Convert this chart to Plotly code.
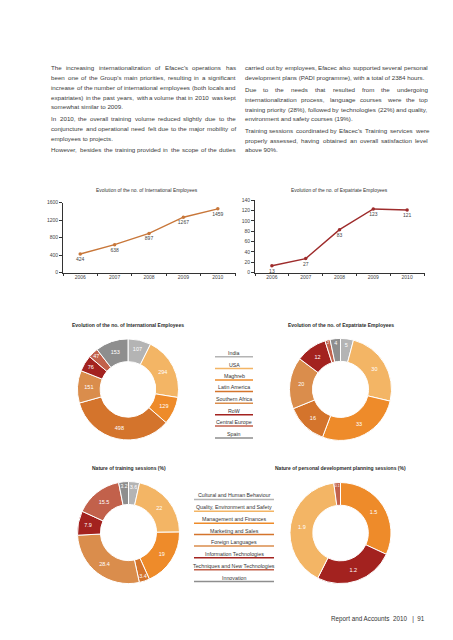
import plotly.graph_objects as go

W, H = 453, 640

# ---------------- data ----------------
years = ["2006", "2007", "2008", "2009", "2010"]
intl_employees = [424, 638, 897, 1267, 1459]
expat_employees = [13, 27, 83, 123, 121]
intl_yticks = [0, 400, 800, 1200, 1600]
expat_yticks = [0, 20, 40, 60, 80, 100, 120, 140]

regions = ["India", "USA", "Maghreb", "Latin America", "Southern Africa",
           "RoW", "Central Europe", "Spain"]
intl_by_region = [107, 294, 129, 498, 151, 76, 47, 153]
expat_by_region = [5, 30, 33, 16, 20, 12, 2, 4]

training_areas = ["Cultural and Human Behaviour", "Quality, Environment and Safety",
                  "Management and Finances", "Marketing and Sales", "Foreign Languages",
                  "Information Technologies", "Techniques and New Technologies", "Innovation"]
training_pct = [3.6, 22, 19, 3.4, 28.4, 7.9, 15.5, 3.2]
pdp_areas = ["Management and Finances", "Information Technologies",
             "Quality, Environment and Safety", "Techniques and New Technologies"]
pdp_pct = [1.5, 1.2, 1.9, 0.1]

left_lines = [
    "The increasing internationalization of Efacec's operations has",
    "been one of the Group's main priorities, resulting in a significant",
    "increase of the number of international employees (both locals and",
    "expatriates) in the past years, with a volume that in 2010 was kept",
    "somewhat similar to 2009.",
    "In 2010, the overall training volume reduced slightly due to the",
    "conjuncture and operational need felt due to the major mobility of",
    "employees to projects.",
    "However, besides the training provided in the scope of the duties",
]
left_last = {4, 7}
right_lines = [
    "carried out by employees, Efacec also supported several personal",
    "development plans (PADI programme), with a total of 2384 hours.",
    "Due to the needs that resulted from the undergoing",
    "internationalization process, language courses were the top",
    "training priority (28%), followed by technologies (22%) and quality,",
    "environment and safety courses (19%).",
    "Training sessions coordinated by Efacec's Training services were",
    "properly assessed, having obtained an overall satisfaction level",
    "above 90%.",
]
right_last = {1, 5, 8}
footer_text = "Report and Accounts\u00a0\u00a02010\u00a0\u00a0\u00a0|\u00a0\u00a091"

# ---------------- style ----------------
PALETTE = ["#B4B4B4", "#F3B565", "#EE8B2A", "#D4742C", "#DA8D4C",
           "#A3221F", "#C2614B", "#8E8E8E"]
FONT = "Liberation Sans"
TXT = "#3a3a3a"


def px(x):
    return x / W


def py(y):
    return 1 - y / H


AW = {" ": 278, ",": 278, ".": 278, "(": 333, ")": 333, "%": 889, "'": 191,
      "-": 333, "|": 260, ":": 278}
AW.update({c: 556 for c in "0123456789"})
AW.update(dict(zip("abcdefghijklmnopqrstuvwxyz",
                   [556, 556, 500, 556, 556, 278, 556, 556, 222, 222, 500, 222, 833,
                    556, 556, 556, 556, 333, 500, 278, 556, 500, 722, 500, 500, 500])))
AW.update(dict(zip("ABCDEFGHIJKLMNOPQRSTUVWXYZ",
                   [667, 667, 722, 722, 667, 611, 778, 722, 278, 500, 667, 556, 833,
                    722, 778, 667, 778, 722, 667, 611, 722, 667, 944, 667, 667, 611])))


def tw(s, size):
    return sum(AW.get(c, 556) for c in s) * size / 1000.0


annotations = []
shapes = []


def ann(x, y, text, size, color=TXT, xanchor="left", bold=False):
    annotations.append(dict(
        x=px(x), y=py(y), xref="paper", yref="paper", text=text, showarrow=False,
        xanchor=xanchor, yanchor="middle", borderpad=0, borderwidth=0,
        font=dict(family=FONT, size=size, color=color,
                  weight="bold" if bold else "normal")))


BODY = 6.2


def place_lines(lines, ys, last, x0, x1):
    for i, (line, yc) in enumerate(zip(lines, ys)):
        if i in last:
            ann(x0, yc, line, BODY)
            continue
        words = line.split(" ")
        widths = [tw(w, BODY) for w in words]
        gap = (x1 - x0 - sum(widths)) / (len(words) - 1)
        x = x0
        for w, wd in zip(words, widths):
            ann(x, yc, w, BODY)
            x += wd + gap


place_lines(left_lines, [57.3, 67, 77, 87, 96.7, 108.7, 118.3, 128.3, 140.3],
            left_last, 43.3, 227.7)
place_lines(right_lines, [57.3, 67, 79, 89, 99, 109, 121, 131, 140.3],
            right_last, 236.7, 420)

# ---------------- figure ----------------
fig = go.Figure()

line1 = "#C8773A"
line2 = "#9E2C2C"
fig.add_trace(go.Scatter(
    x=years, y=intl_employees, mode="lines+markers+text",
    text=[str(v) for v in intl_employees], textposition="bottom center",
    textfont=dict(family=FONT, size=5, color="#444"),
    line=dict(color=line1, width=1.4), marker=dict(color=line1, size=3.5),
    xaxis="x", yaxis="y", cliponaxis=False, showlegend=False, hoverinfo="skip"))
fig.add_trace(go.Scatter(
    x=years, y=expat_employees, mode="lines+markers+text",
    text=[str(v) for v in expat_employees], textposition="bottom center",
    textfont=dict(family=FONT, size=5, color="#444"),
    line=dict(color=line2, width=1.4), marker=dict(color=line2, size=3.5),
    xaxis="x2", yaxis="y2", cliponaxis=False, showlegend=False, hoverinfo="skip"))

axis_common = dict(showline=True, linecolor="#333", linewidth=0.8, ticks="outside",
                   ticklen=3, tickcolor="#333", tickwidth=0.8, showgrid=False,
                   zeroline=False, tickfont=dict(family=FONT, size=5, color="#444"),
                   fixedrange=True)

layout = dict(
    width=W, height=H, margin=dict(l=0, r=0, t=0, b=0),
    paper_bgcolor="white", plot_bgcolor="white", showlegend=False,
    xaxis=dict(domain=[px(55), px(227)], type="category", range=[-0.5, 4.5],
               tickson="boundaries", anchor="y", **axis_common),
    yaxis=dict(domain=[py(264), py(193.5)], range=[0, 1600], tickvals=intl_yticks,
               anchor="x", **axis_common),
    xaxis2=dict(domain=[px(247), px(416)], type="category", range=[-0.5, 4.5],
                tickson="boundaries", anchor="y2", **axis_common),
    yaxis2=dict(domain=[py(264), py(191)], range=[0, 140], tickvals=expat_yticks,
                anchor="x2", **axis_common),
)

# titles of line charts
ann(139, 181, "Evolution of the no. of International Employees", 4.9, "#333", "center")
ann(331, 181, "Evolution of the no. of Expatriate Employees", 4.9, "#333", "center")


def donut(labels, values, colors, cx, cy, r):
    fig.add_trace(go.Pie(
        labels=labels, values=values, text=[str(v) for v in values], textinfo="text",
        sort=False, direction="clockwise", rotation=0, hole=0.55,
        marker=dict(colors=colors, line=dict(color="white", width=1)),
        textposition="inside", insidetextorientation="horizontal",
        textfont=dict(family=FONT, size=5.5, color="white"),
        domain=dict(x=[px(cx - r), px(cx + r)], y=[py(cy + r), py(cy - r)]),
        showlegend=False, hoverinfo="skip"))


donut(regions, intl_by_region, PALETTE, 120, 382, 51)
donut(regions, expat_by_region, PALETTE, 332.5, 382, 51.5)
donut(training_areas, training_pct, PALETTE, 120.5, 526.5, 51.5)
cmap = dict(zip(training_areas, PALETTE))
donut(pdp_areas, pdp_pct, [cmap[a] for a in pdp_areas], 332.5, 527, 51)

ann(120, 317, "Evolution of the no. of International Employees", 5.0, "#2a2a2a", "center", True)
ann(332.5, 317, "Evolution of the no. of Expatriate Employees", 5.0, "#2a2a2a", "center", True)
ann(120.5, 461, "Nature of training sessions (%)", 5.0, "#2a2a2a", "center", True)
ann(332.5, 461, "Nature of personal development planning sessions (%)", 5.0, "#2a2a2a", "center", True)


def legend(labels, colors, x0, x1, ys):
    for lab, col, yc in zip(labels, colors, ys):
        ann((x0 + x1) / 2, yc, lab, 5.3, "#333", "center")
        shapes.append(dict(type="line", xref="paper", yref="paper",
                           x0=px(x0), x1=px(x1), y0=py(yc + 4), y1=py(yc + 4),
                           line=dict(color=col, width=1.5)))


legend(regions, PALETTE, 207, 245, [345, 357, 368.5, 380, 392, 403.5, 415, 427])
legend(training_areas, PALETTE, 186, 266, [489, 501, 513, 524.5, 536, 548, 560, 572])

# footer
ann(323, 614, footer_text, 6.3, "#333", "left")

layout["annotations"] = annotations
layout["shapes"] = shapes
fig.update_layout(**layout)
fig.write_html("out.html")
